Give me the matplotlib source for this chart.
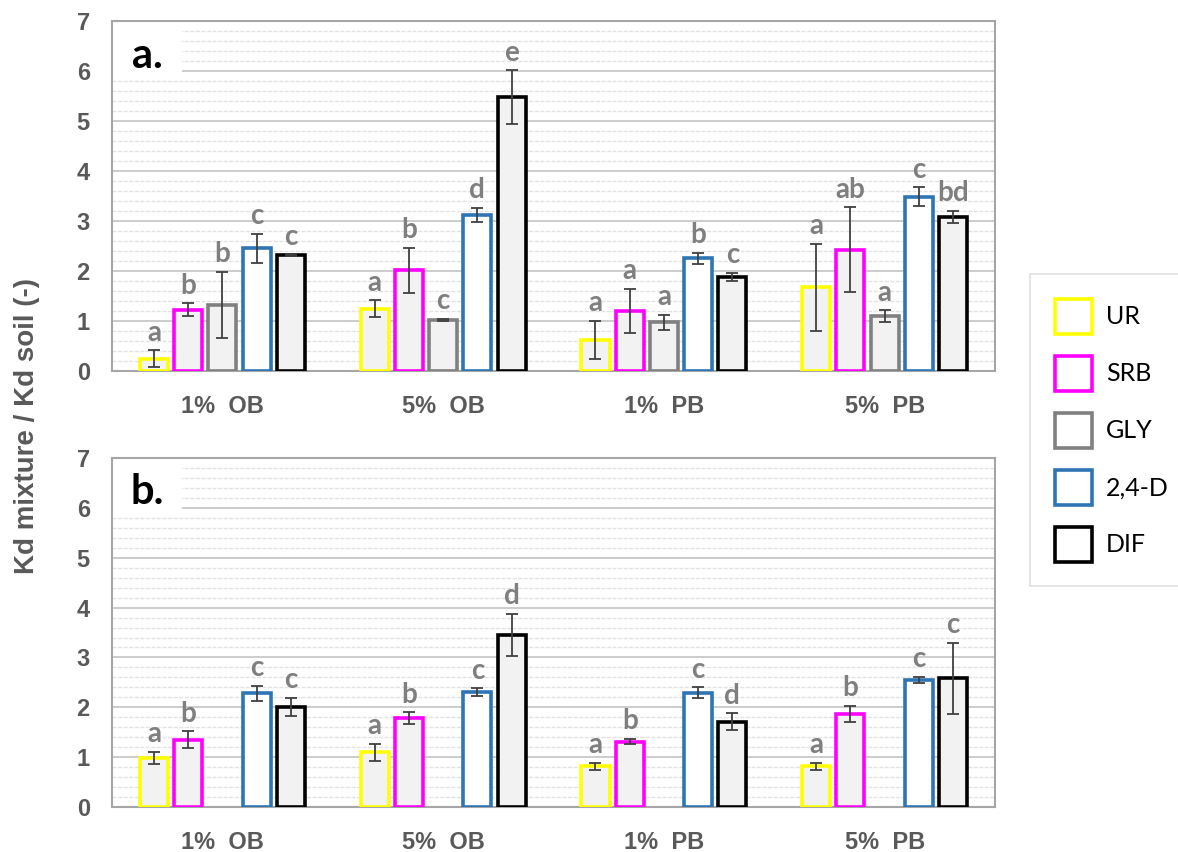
import numpy as np
import matplotlib
matplotlib.use("Agg")
import matplotlib.pyplot as plt
from matplotlib.patches import Patch, Rectangle

# data
groups = ["1%  OB", "5%  OB", "1%  PB", "5%  PB"]
series = ["UR", "SRB", "GLY", "2,4-D", "DIF"]
edge_colors = ["#FFFF00", "#FF00FF", "#808080", "#2E75B6", "#000000"]
face_colors = ["#F2F2F2", "#F2F2F2", "#F2F2F2", "#FFFFFF", "#F2F2F2"]

# panel a  (rows = series, cols = groups)
a_vals = [
    [0.24, 1.24, 0.62, 1.67],
    [1.22, 2.01, 1.20, 2.42],
    [1.32, 1.02, 0.97, 1.09],
    [2.45, 3.12, 2.25, 3.48],
    [2.31, 5.47, 1.88, 3.08],
]
a_err = [
    [0.17, 0.17, 0.38, 0.87],
    [0.13, 0.45, 0.44, 0.85],
    [0.66, 0.02, 0.15, 0.12],
    [0.29, 0.14, 0.11, 0.19],
    [0.02, 0.54, 0.08, 0.12],
]
a_letters = [
    ["a", "a", "a", "a"],
    ["b", "b", "a", "ab"],
    ["b", "c", "a", "a"],
    ["c", "d", "b", "c"],
    ["c", "e", "c", "bd"],
]

# panel b  (no GLY)
b_vals = [
    [0.99, 1.10, 0.82, 0.82],
    [1.35, 1.78, 1.31, 1.87],
    [np.nan, np.nan, np.nan, np.nan],
    [2.28, 2.30, 2.29, 2.55],
    [2.01, 3.45, 1.71, 2.58],
]
b_err = [
    [0.12, 0.17, 0.07, 0.07],
    [0.17, 0.12, 0.05, 0.16],
    [np.nan, np.nan, np.nan, np.nan],
    [0.15, 0.08, 0.11, 0.06],
    [0.18, 0.42, 0.17, 0.71],
]
b_letters = [
    ["a", "a", "a", "a"],
    ["b", "b", "b", "b"],
    ["", "", "", ""],
    ["c", "c", "c", "c"],
    ["c", "d", "d", "c"],
]

GREY_TXT = "#595959"
LETTER_C = "#7F7F7F"

fig = plt.figure(figsize=(11.78, 8.52), dpi=100)
ax_a = fig.add_axes([0.0951, 0.5646, 0.7496, 0.4108])
ax_b = fig.add_axes([0.0951, 0.0528, 0.7496, 0.4096])

x = np.arange(len(groups))
step = 0.155
width = 0.127


def draw_panel(ax, vals, errs, letters, tag):
    for i in range(len(series)):
        v = np.array(vals[i], dtype=float)
        e = np.array(errs[i], dtype=float)
        if np.all(np.isnan(v)):
            continue
        xs = x + (i - 2) * step
        ax.bar(xs, v, width, color=face_colors[i], edgecolor=edge_colors[i],
               linewidth=2.6, zorder=3)
        ax.errorbar(xs, v, yerr=e, fmt="none", ecolor="#404040",
                    elinewidth=1.3, capsize=4, capthick=1.3, zorder=4)
        for xx, vv, ee, lt in zip(xs, v, e, letters[i]):
            ax.annotate(lt, (xx, vv + ee), xytext=(0, 7), textcoords="offset points",
                        ha="center", va="baseline", fontsize=20, fontweight="bold",
                        color=LETTER_C, family="Lato")

    ax.set_xlim(-0.5, len(groups) - 0.5)
    ax.set_ylim(0, 7)
    ax.set_yticks(range(8))
    ax.set_yticks(np.arange(0, 7.01, 0.2), minor=True)
    ax.set_xticks(x)
    ax.set_xticklabels(groups)
    ax.grid(axis="y", which="major", color="#C4C4C4", linewidth=1.2, zorder=0)
    ax.grid(axis="y", which="minor", color="#E3E3E3", linewidth=1.0,
            linestyle=(0, (3, 1)), zorder=0)
    ax.set_axisbelow(True)
    ax.tick_params(axis="both", which="both", length=0)
    ax.tick_params(axis="y", pad=16)
    ax.tick_params(axis="x", pad=17)
    for lab in ax.get_xticklabels() + ax.get_yticklabels():
        lab.set_fontsize(17)
        lab.set_fontweight("bold")
        lab.set_color(GREY_TXT)
        lab.set_family("Liberation Sans")
    for sp in ax.spines.values():
        sp.set_color("#A6A6A6")
        sp.set_linewidth(1.5)

    # white patch behind the panel tag
    ax.add_patch(Rectangle((0, 0.832), 0.0795, 0.168, transform=ax.transAxes,
                           facecolor="white", edgecolor="none", zorder=1))
    ax.text(0.040, 0.867, tag, transform=ax.transAxes, ha="center", va="baseline",
            fontsize=30, fontweight="bold", color="black", family="Lato", zorder=5)


draw_panel(ax_a, a_vals, a_err, a_letters, "a.")
draw_panel(ax_b, b_vals, b_err, b_letters, "b.")

fig.text(0.023, 0.5, "Kd mixture / Kd soil (-)", rotation=90, ha="center", va="center",
         fontsize=20, fontweight="bold", color=GREY_TXT, family="Liberation Sans")

handles = [Patch(facecolor="white", edgecolor=c, linewidth=2.6) for c in edge_colors]
leg = fig.legend(handles, series, loc="upper left", bbox_to_anchor=(0.8744, 0.6784),
                 borderaxespad=0, frameon=True, fancybox=False,
                 handlelength=1.5, handleheight=1.78,
                 labelspacing=0.88, borderpad=0.98, handletextpad=0.55,
                 prop={"family": "Lato", "size": 18})
leg.get_frame().set_edgecolor("#D9D9D9")
leg.get_frame().set_linewidth(1.2)

fig.savefig("out.png", dpi=100)
